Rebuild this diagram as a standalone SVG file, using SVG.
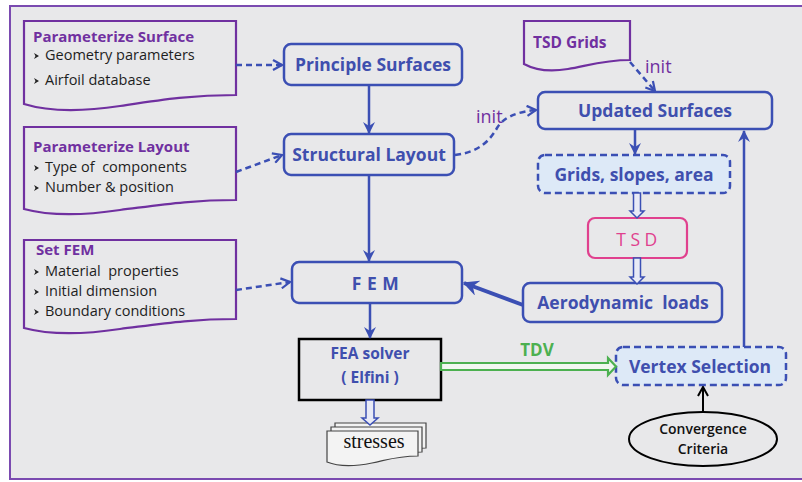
<svg xmlns="http://www.w3.org/2000/svg" width="802" height="482" viewBox="0 0 802 482">
<defs>
<style>
.bx{fill:none;stroke:#3b4fb4;stroke-width:2.5}
.dbx{fill:#dde9f7;stroke:#3b4fb4;stroke-width:2.5;stroke-dasharray:7,4}
.doc{fill:none;stroke:#7030a0;stroke-width:2.2}
.t{font-family:"Open Sans",Lato,"Liberation Sans",sans-serif;font-weight:bold;font-size:17.5px;fill:#3f4fae;text-anchor:middle;white-space:pre}
.pt{font-family:"Open Sans",Lato,"Liberation Sans",sans-serif;font-weight:bold;font-size:15px;fill:#7030a0}
.bt{font-family:"Open Sans",Lato,"Liberation Sans",sans-serif;font-size:14.5px;fill:#1e1e1e;white-space:pre}
.lk{fill:none;stroke:#3b4fb4;stroke-width:2.5}
.dl{fill:none;stroke:#3b4fb4;stroke-width:2.5;stroke-dasharray:6,4}
.hol{fill:#e8eaf6;stroke:#3b4fb4;stroke-width:1.5}
.pg{fill:#f3f3f3;stroke:#444;stroke-width:1.2}
.it{font-family:"Open Sans",Lato,"Liberation Sans",sans-serif;font-size:18px;fill:#7030a0}
</style>
<marker id="ah" viewBox="0 0 12 12" refX="11" refY="6" markerWidth="12" markerHeight="12" markerUnits="userSpaceOnUse" orient="auto">
<path d="M0,0 L12,6 L0,12 L4,6 Z" fill="#3b4fb4"/>
</marker>
<marker id="ahb" viewBox="0 0 12 12" refX="11" refY="6" markerWidth="16" markerHeight="16" markerUnits="userSpaceOnUse" orient="auto">
<path d="M0,0 L12,6 L0,12 L4,6 Z" fill="#3b4fb4"/>
</marker>
<marker id="ch" viewBox="0 0 12 12" refX="11" refY="6" markerWidth="12" markerHeight="12" markerUnits="userSpaceOnUse" orient="auto">
<path d="M2,1 L11,6 L2,11" fill="none" stroke="#3b4fb4" stroke-width="2.2"/>
</marker>
<marker id="chk" viewBox="0 0 12 12" refX="11" refY="6" markerWidth="12" markerHeight="12" markerUnits="userSpaceOnUse" orient="auto">
<path d="M2,1 L11,6 L2,11" fill="none" stroke="#000" stroke-width="2"/>
</marker>
<path id="bul" d="M0,-3 L5,0 L0,3 L1.5,0 Z" fill="#222"/>
</defs>

<rect x="0" y="0" width="802" height="482" fill="#ffffff"/>
<rect x="10" y="6" width="792" height="473" fill="#e8e8ea"/>
<path d="M802,6 H10 V479 H802" fill="none" stroke="#7a4ab0" stroke-width="2"/>

<g id="param-surface">
<path class="doc" d="M24,21 H236 V95 C190,95 160,100 120,106 C80,112 50,112 24,104 Z"/>
<text class="pt" x="33" y="42">Parameterize Surface</text>
<use href="#bul" x="34" y="56"/>
<text class="bt" x="45" y="60">Geometry parameters</text>
<use href="#bul" x="34" y="81"/>
<text class="bt" x="45" y="85">Airfoil database</text>
</g>

<g id="param-layout">
<path class="doc" d="M24,127 H236 V200 C190,200 160,205 120,210 C80,216 50,216 24,209 Z"/>
<text class="pt" x="33" y="152">Parameterize Layout</text>
<use href="#bul" x="34" y="168"/>
<text class="bt" x="45" y="172">Type of  components</text>
<use href="#bul" x="34" y="188"/>
<text class="bt" x="45" y="192">Number &amp; position</text>
</g>

<g id="set-fem">
<path class="doc" d="M24,240 H236 V319 C190,319 160,324 120,329 C80,335 50,335 24,328 Z"/>
<text class="pt" x="36" y="255">Set FEM</text>
<use href="#bul" x="34" y="272"/>
<text class="bt" x="45" y="276">Material  properties</text>
<use href="#bul" x="34" y="292"/>
<text class="bt" x="45" y="296">Initial dimension</text>
<use href="#bul" x="34" y="312"/>
<text class="bt" x="45" y="316">Boundary conditions</text>
</g>

<g id="tsd-grids">
<path class="doc" d="M524,21 H630 V60 C605,60 590,65 568,69 C550,72 535,70 524,64 Z"/>
<text class="pt" x="533" y="48" style="font-size:15.5px">TSD Grids</text>
</g>

<g id="principle-surfaces">
<rect class="bx" x="284" y="44" width="178" height="41" rx="7"/>
<text class="t" x="373" y="71">Principle Surfaces</text>
</g>

<g id="structural-layout">
<rect class="bx" x="284" y="134" width="170" height="41" rx="7"/>
<text class="t" x="369" y="161">Structural Layout</text>
</g>

<g id="fem">
<rect class="bx" x="292" y="262" width="170" height="41" rx="7"/>
<text class="t" x="378" y="290" style="letter-spacing:5.5px">FEM</text>
</g>

<g id="fea-solver">
<rect x="299" y="339" width="142" height="61" fill="none" stroke="#000" stroke-width="2.5"/>
<text class="t" x="370" y="359" style="font-size:15.5px">FEA solver</text>
<text class="t" x="370" y="383" style="font-size:15.5px">( Elfini )</text>
</g>

<g id="stresses">
<path class="pg" d="M335,423 H426 V448 C405,448 395,452 380,455 C360,459 345,458 335,454 Z"/>
<path class="pg" d="M331,427 H422 V452 C401,452 391,456 376,459 C356,463 341,462 331,458 Z"/>
<path class="pg" d="M327,431 H418 V456 C397,456 387,460 372,463 C352,467 337,466 327,462 Z"/>
<text x="374" y="448" font-family="'Liberation Serif',serif" font-size="20" fill="#111" text-anchor="middle">stresses</text>
</g>

<g id="updated-surfaces">
<rect class="bx" x="538" y="92" width="234" height="37" rx="7"/>
<text class="t" x="655" y="117">Updated Surfaces</text>
</g>

<g id="grids">
<rect class="dbx" x="538" y="155" width="192" height="38" rx="7"/>
<text class="t" x="634" y="181">Grids, slopes, area</text>
</g>

<g id="tsd">
<rect x="588" y="218" width="99" height="40" rx="7" fill="none" stroke="#e0408e" stroke-width="2.2"/>
<text class="t" x="639" y="246" style="fill:#e0408e;letter-spacing:4.5px;font-weight:normal">TSD</text>
</g>

<g id="aero-loads">
<rect class="bx" x="523" y="283" width="199" height="39" rx="7"/>
<text class="t" x="623" y="309">Aerodynamic  loads</text>
</g>

<g id="vertex-selection">
<rect class="dbx" x="616" y="347" width="170" height="38" rx="7"/>
<text class="t" x="700" y="373">Vertex Selection</text>
</g>

<g id="convergence">
<ellipse cx="703" cy="439" rx="74" ry="27" fill="none" stroke="#000" stroke-width="2"/>
<text x="703" y="434" font-family="'Open Sans',Lato,'Liberation Sans',sans-serif" font-size="14" font-weight="600" fill="#111" text-anchor="middle">Convergence</text>
<text x="703" y="454" font-family="'Open Sans',Lato,'Liberation Sans',sans-serif" font-size="14" font-weight="600" fill="#111" text-anchor="middle">Criteria</text>
</g>

<g id="connectors">
<path class="dl" d="M236,65 H282" marker-end="url(#ch)"/>
<path class="dl" d="M236,172 L282,155" marker-end="url(#ch)"/>
<path class="dl" d="M236,290 L290,282" marker-end="url(#ch)"/>
<path class="lk" d="M369,85 V133" marker-end="url(#ah)"/>
<path class="lk" d="M369,175 V261" marker-end="url(#ah)"/>
<path class="lk" d="M370,303 V338" marker-end="url(#ah)"/>
<polygon class="hol" points="366,400 374,400 374,418 378,418 370,425 362,418 366,418"/>
<path class="dl" d="M455,155 C480,152 490,140 497,128 C503,118 515,112 536,110" marker-end="url(#ch)"/>
<text class="it" x="476" y="123">init</text>
<path class="dl" d="M630,62 L655,91" marker-end="url(#ch)"/>
<text class="it" x="645" y="73">init</text>
<path class="lk" d="M635,129 V154" marker-end="url(#ah)"/>
<polygon class="hol" points="633.5,193 640.5,193 640.5,211 644,211 637,218 630,211 633.5,211"/>
<polygon class="hol" points="633.5,258 640.5,258 640.5,277 644,277 637,284 630,277 633.5,277"/>
<path d="M523,305 L464,283" fill="none" stroke="#3b4fb4" stroke-width="4" marker-end="url(#ahb)"/>
<path class="lk" d="M744,347 V131" marker-end="url(#ah)"/>
<polygon points="441,363 608,363 608,358 616,366.5 608,375 608,370 441,370" fill="#f1f7f0" stroke="#4cb050" stroke-width="2.2"/>
<text x="537" y="356" font-family="'Open Sans',Lato,'Liberation Sans',sans-serif" font-size="17" font-weight="bold" fill="#4cb050" text-anchor="middle">TDV</text>
<path d="M703,412 V387" fill="none" stroke="#000" stroke-width="2" marker-end="url(#chk)"/>
</g>
</svg>
